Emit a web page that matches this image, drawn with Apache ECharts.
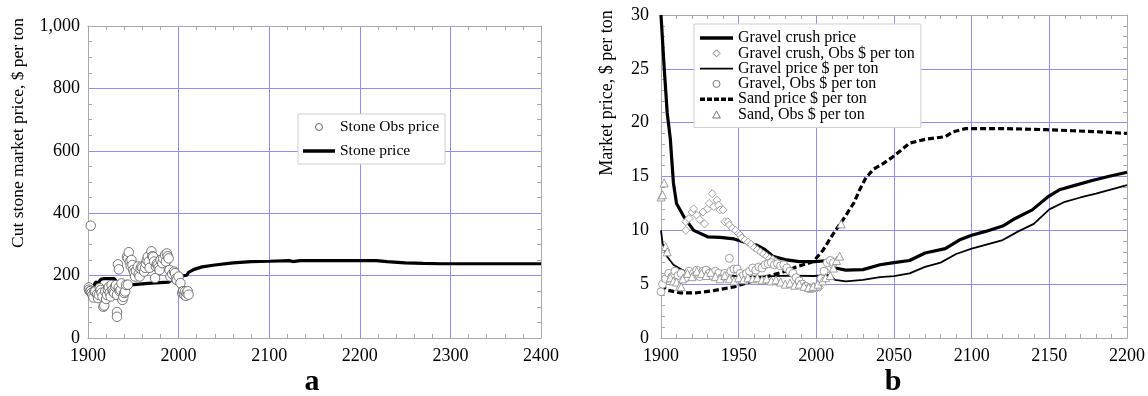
<!DOCTYPE html>
<html>
<head>
<meta charset="utf-8">
<script src="https://cdn.jsdelivr.net/npm/echarts@6/dist/echarts.min.js"></script>
<style>
  html, body { margin: 0; padding: 0; background: #fff; }
  #chart { width: 1148px; height: 396px; }
</style>
</head>
<body>
<div id="chart"></div>
<script>
// ---- panel a: cut stone ----
const stoneObs = [
  [1901,162],[1901,155],[1902,150],[1903,360],[1903,151],[1904,145],[1905,138],[1906,130],[1907,150],[1908,149],
  [1910,140],[1911,128],[1912,138],[1913,160],[1914,154],[1915,145],[1916,133],[1917,100],[1918,104],[1919,149],
  [1920,125],[1921,138],[1922,155],[1923,163],[1924,145],[1925,133],[1926,170],[1927,154],[1928,148],[1929,144],
  [1930,165],[1931,170],[1932,83],[1932,68],[1932,138],[1933,236],[1934,220],[1934,162],[1935,150],[1936,154],
  [1937,175],[1938,122],[1939,132],[1940,144],[1941,149],[1942,170],[1943,260],[1944,255],[1944,171],[1945,275],
  [1946,245],[1947,232],[1948,250],[1949,234],[1950,218],[1951,210],[1952,197],[1953,215],[1955,229],[1956,205],
  [1957,197],[1958,222],[1959,229],[1960,225],[1962,213],[1963,225],[1964,239],[1965,250],[1966,260],[1967,245],
  [1968,225],[1970,278],[1971,262],[1972,260],[1973,245],[1974,192],[1975,229],[1976,238],[1977,234],[1978,225],
  [1979,218],[1980,250],[1982,240],[1983,255],[1985,266],[1986,245],[1987,271],[1988,262],[1989,255],[1990,218],
  [1991,197],[1993,205],[1995,213],[1996,208],[1997,190],[1998,186],[2000,197],[2002,176],[2004,144],[2005,150],
  [2006,139],[2007,149],[2008,135],[2009,144],[2010,150],[2011,139]
];
const stonePrice = [
  [1906,162],[1908,178],[1912,179],[1914,188],[1917,190],[1929,190],[1931,182],[1933,172],[1950,171],[1970,176],
  [1989,179],[1992,185],[1997,190],[2000,196],[2004,199],[2009,201],[2011,210],[2017,220],[2026,228],[2040,234],
  [2060,241],[2080,245],[2100,246],[2122,248],[2124,249],[2126,245],[2134,248],[2218,248],[2230,245],[2250,241],
  [2270,239],[2290,238],[2400,238]
];

// ---- panel b: gravel and sand ----
const gravelCrushPrice = [
  [1900,30],[1902,25.2],[1904,20.9],[1906,18.5],[1908,14.4],[1910,12.5],[1915,11.2],[1921,10.0],[1930,9.4],[1938,9.35],
  [1947,9.2],[1955,8.85],[1962,8.6],[1967,8.2],[1972,7.6],[1981,7.25],[1989,7.1],[1999,7.1],[2008,7.2],[2012,6.5],
  [2019,6.3],[2030,6.35],[2041,6.8],[2050,7.0],[2060,7.2],[2070,7.9],[2083,8.3],[2092,9.1],[2100,9.55],[2109,9.9],
  [2120,10.4],[2128,11.1],[2139,11.9],[2149,13.1],[2157,13.8],[2167,14.2],[2177,14.6],[2188,15.0],[2200,15.4]
];
const gravelCrushObs = [
  [1916,10.8],[1916,10.0],[1918,11.1],[1920,11.7],[1921,12.0],[1923,11.4],[1925,11.0],[1927,11.7],[1928,10.6],[1930,12.0],
  [1931,12.5],[1933,13.4],[1934,12.2],[1936,12.8],[1937,12.35],[1938,11.9],[1940,11.9],[1941,10.8],[1943,10.8],[1944,10.5],
  [1946,10.2],[1948,10.0],[1950,9.7],[1951,9.55],[1952,9.3],[1954,9.1],[1956,8.9],[1958,8.7],[1960,8.4],[1962,8.2],
  [1964,8.0],[1966,7.8],[1968,7.6],[1970,7.4],[1972,7.3],[1974,7.1],[1976,6.9],[1978,6.7],[1980,6.5],[1982,6.3],
  [1984,6.0],[1986,5.8],[1988,5.5],[1990,5.2],[1992,5.0],[1994,4.8],[1996,4.7],[1998,4.6],[2000,4.6],[2002,4.7],
  [2004,5.3],[2006,6.2],[2008,7.0],[2010,6.8],[2012,7.0]
];
const gravelPrice = [
  [1900,10.0],[1901,8.8],[1904,7.55],[1908,6.8],[1914,6.3],[1919,6.0],[1930,5.95],[1940,5.8],[1951,5.75],[1962,5.7],
  [1972,5.75],[1983,5.8],[1998,5.76],[2009,5.85],[2012,5.4],[2019,5.25],[2030,5.4],[2041,5.65],[2050,5.75],[2060,6.0],
  [2070,6.6],[2080,7.0],[2090,7.8],[2100,8.3],[2110,8.7],[2120,9.1],[2130,9.9],[2140,10.6],[2150,11.95],[2160,12.65],
  [2170,13.05],[2180,13.4],[2190,13.8],[2200,14.2]
];
const gravelObs = [
  [1900,4.3],[1901,5.0],[1903,5.5],[1905,6.0],[1907,5.7],[1909,6.2],[1911,5.8],[1913,6.0],[1916,5.6],[1918,6.2],
  [1921,6.0],[1923,6.3],[1925,5.7],[1927,6.2],[1929,6.3],[1931,6.0],[1933,5.8],[1935,6.2],[1937,6.0],[1939,5.6],
  [1941,6.0],[1943,5.8],[1944,7.4],[1945,6.2],[1947,6.4],[1949,6.4],[1951,6.0],[1953,5.8],[1955,6.0],[1957,6.2],
  [1959,6.5],[1961,6.3],[1963,6.6],[1965,6.5],[1967,6.8],[1969,6.9],[1971,7.0],[1973,6.8],[1975,6.9],[1977,6.7],
  [1979,6.8],[1981,6.5],[1983,6.2],[1985,6.0],[1987,5.6],[1989,5.3],[1991,5.0],[1993,4.8],[1995,4.6],[1997,4.6],
  [1999,4.7],[2001,4.8],[2003,5.5],[2005,6.2],[2007,7.0],[2009,7.2],[2011,7.0]
];
const sandPrice = [
  [1900,4.9],[1904,4.45],[1912,4.2],[1923,4.2],[1934,4.4],[1947,4.75],[1957,5.2],[1968,5.7],[1979,6.15],[1987,6.6],
  [1994,6.9],[1998,7.1],[2004,8.1],[2011,9.7],[2017,10.95],[2024,12.5],[2028,13.8],[2032,14.9],[2037,15.7],[2043,16.2],
  [2049,16.8],[2055,17.5],[2060,18.1],[2070,18.45],[2083,18.7],[2088,19.15],[2096,19.45],[2122,19.45],[2148,19.35],
  [2165,19.25],[2182,19.15],[2200,19.0]
];
const sandObs = [
  [1900,13.1],[1901,13.3],[1902,14.4],[1903,8.5],[1904,8.0],[1906,5.6],[1908,5.3],[1910,5.2],[1912,4.8],[1913,4.75],
  [1914,5.5],[1917,6.0],[1920,5.7],[1923,6.2],[1926,6.0],[1929,5.8],[1932,6.1],[1935,5.7],[1938,5.5],[1941,5.8],
  [1944,5.5],[1947,5.3],[1950,5.6],[1953,5.4],[1956,5.6],[1959,5.5],[1962,5.6],[1965,5.4],[1968,5.5],[1971,5.3],
  [1974,5.4],[1977,5.2],[1980,5.0],[1983,5.1],[1986,4.9],[1989,5.0],[1992,4.8],[1995,4.7],[1998,4.8],[2001,5.0],
  [2004,5.3],[2006,5.6],[2009,5.8],[2011,6.5],[2013,7.2],[2015,7.6],[2016,10.6]
];

const serif = '"Liberation Serif", "DejaVu Serif", serif';
const gridBlue = '#8e8ef6';
const frame = '#a9a9a9';
const thickIcon = 'path://M0,0H32V3.5H0Z';
const thinIcon = 'path://M0,0H32V1.6H0Z';
const dashIcon = 'path://M0,0H5V3.5H0ZM7,0H12V3.5H7ZM14,0H19V3.5H14ZM21,0H26V3.5H21ZM28,0H33V3.5H28Z';
const diamondIcon = 'path://M0,3.5L3.5,0L7,3.5L3.5,7Z';
const triangleIcon = 'path://M3.5,0L7,6.4L0,6.4Z';

// one axis; the top / right copies only carry the frame and the inner ticks
function axis(gridIndex, position, min, max, interval, minorSplit, main, margin, fmt) {
  return {
    type: 'value', gridIndex: gridIndex, position: position,
    min: min, max: max, interval: interval,
    axisLine: { show: true, onZero: false, lineStyle: { color: frame, width: 1 } },
    axisTick: { show: false, inside: true },
    minorTick: { show: true, splitNumber: minorSplit, length: 4, lineStyle: { color: frame, width: 1 } },
    axisLabel: {
      show: main, margin: margin, color: '#000',
      fontFamily: serif, fontSize: 18,
      formatter: fmt || (v => String(v))
    },
    splitLine: {
      show: main, showMinLine: false, showMaxLine: false,
      lineStyle: { color: gridBlue, width: 1 }
    }
  };
}

const chart = echarts.init(document.getElementById('chart'));

const option = {
  animation: false,
  backgroundColor: '#fff',
  grid: [
    { left: 88, top: 26, width: 453, height: 312 },
    { left: 661, top: 15, width: 467, height: 323 }
  ],
  xAxis: [
    axis(0, 'bottom', 1900, 2400, 100, 5, true, 9),
    axis(0, 'top', 1900, 2400, 100, 5, false, 0),
    axis(1, 'bottom', 1900, 2200, 50, 5, true, 9),
    axis(1, 'top', 1900, 2200, 50, 5, false, 0)
  ],
  yAxis: [
    axis(0, 'left', 0, 1000, 200, 4, true, 8, v => v.toLocaleString('en-US')),
    axis(0, 'right', 0, 1000, 200, 4, false, 0),
    axis(1, 'left', 0, 30, 5, 5, true, 12),
    axis(1, 'right', 0, 30, 5, 5, false, 0)
  ],
  legend: [
    {
      orient: 'vertical', left: 298, top: 114,
      itemWidth: 32, itemHeight: 7, itemGap: 8,
      padding: [5, 6, 5, 5],
      backgroundColor: '#fff', borderColor: '#cfcfcf', borderWidth: 1,
      selectedMode: false,
      textStyle: { fontFamily: serif, fontSize: 15.5, color: '#000', lineHeight: 15 },
      data: [
        { name: 'Stone Obs price', icon: 'circle', itemStyle: { color: '#fff', borderColor: '#666', borderWidth: 1 } },
        { name: 'Stone price', icon: thickIcon, itemStyle: { color: '#000', borderWidth: 0 } }
      ]
    },
    {
      orient: 'vertical', left: 694, top: 24,
      itemWidth: 33, itemHeight: 7, itemGap: -0.7,
      padding: [6, 6, 5, 6],
      backgroundColor: '#fff', borderColor: '#cfcfcf', borderWidth: 1,
      selectedMode: false,
      textStyle: { fontFamily: serif, fontSize: 16, color: '#000', lineHeight: 14 },
      data: [
        { name: 'Gravel crush price', icon: thickIcon, itemStyle: { color: '#000', borderWidth: 0 } },
        { name: 'Gravel crush, Obs $ per ton', icon: diamondIcon, itemStyle: { color: '#fff', borderColor: '#777', borderWidth: 1 } },
        { name: 'Gravel price $ per ton', icon: thinIcon, itemStyle: { color: '#000', borderWidth: 0 } },
        { name: 'Gravel, Obs $ per ton', icon: 'circle', itemStyle: { color: '#fff', borderColor: '#777', borderWidth: 1 } },
        { name: 'Sand price $ per ton', icon: dashIcon, itemStyle: { color: '#000', borderWidth: 0 } },
        { name: 'Sand, Obs $ per ton', icon: triangleIcon, itemStyle: { color: '#fff', borderColor: '#777', borderWidth: 1 } }
      ]
    }
  ],
  graphic: [
    { type: 'text', x: 18, y: 133, rotation: Math.PI / 2,
      style: { text: 'Cut stone market price, $ per ton', font: '17.5px "Liberation Serif"', fill: '#000',
               align: 'center', verticalAlign: 'middle', textAlign: 'center', textVerticalAlign: 'middle' } },
    { type: 'text', x: 607, y: 93, rotation: Math.PI / 2,
      style: { text: 'Market price, $ per ton', font: '18px "Liberation Serif"', fill: '#000',
               align: 'center', verticalAlign: 'middle', textAlign: 'center', textVerticalAlign: 'middle' } },
    { type: 'text', x: 312, y: 382,
      style: { text: 'a', font: 'bold 30px "Liberation Serif"', fill: '#000',
               align: 'center', verticalAlign: 'middle', textAlign: 'center', textVerticalAlign: 'middle' } },
    { type: 'text', x: 893, y: 382,
      style: { text: 'b', font: 'bold 30px "Liberation Serif"', fill: '#000',
               align: 'center', verticalAlign: 'middle', textAlign: 'center', textVerticalAlign: 'middle' } }
  ],
  series: [
    { name: 'Stone price', type: 'line', xAxisIndex: 0, yAxisIndex: 0, data: stonePrice,
      symbol: 'none', lineStyle: { color: '#000', width: 3.2 }, itemStyle: { color: '#000' }, z: 2 },
    { name: 'Stone Obs price', type: 'scatter', xAxisIndex: 0, yAxisIndex: 0, data: stoneObs,
      symbol: 'circle', symbolSize: 9.5, itemStyle: { color: '#fff', borderColor: '#555', borderWidth: 0.8, opacity: 1 }, z: 3 },

    { name: 'Gravel crush price', type: 'line', xAxisIndex: 2, yAxisIndex: 2, data: gravelCrushPrice,
      symbol: 'none', lineStyle: { color: '#000', width: 3.2 }, itemStyle: { color: '#000' }, z: 2 },
    { name: 'Gravel crush, Obs $ per ton', type: 'scatter', xAxisIndex: 2, yAxisIndex: 2, data: gravelCrushObs,
      symbol: 'diamond', symbolSize: 8, itemStyle: { color: '#fff', borderColor: '#888', borderWidth: 0.8, opacity: 1 }, z: 3 },
    { name: 'Gravel price $ per ton', type: 'line', xAxisIndex: 2, yAxisIndex: 2, data: gravelPrice,
      symbol: 'none', lineStyle: { color: '#000', width: 1.8 }, itemStyle: { color: '#000' }, z: 2 },
    { name: 'Gravel, Obs $ per ton', type: 'scatter', xAxisIndex: 2, yAxisIndex: 2, data: gravelObs,
      symbol: 'circle', symbolSize: 8, itemStyle: { color: '#fff', borderColor: '#888', borderWidth: 0.8, opacity: 1 }, z: 3 },
    { name: 'Sand price $ per ton', type: 'line', xAxisIndex: 2, yAxisIndex: 2, data: sandPrice,
      symbol: 'none', lineStyle: { color: '#000', width: 3.2, type: [6, 3] }, itemStyle: { color: '#000' }, z: 2 },
    { name: 'Sand, Obs $ per ton', type: 'scatter', xAxisIndex: 2, yAxisIndex: 2, data: sandObs,
      symbol: 'triangle', symbolSize: 8, itemStyle: { color: '#fff', borderColor: '#888', borderWidth: 0.8, opacity: 1 }, z: 3 }
  ]
};

chart.setOption(option);
</script>
</body>
</html>
